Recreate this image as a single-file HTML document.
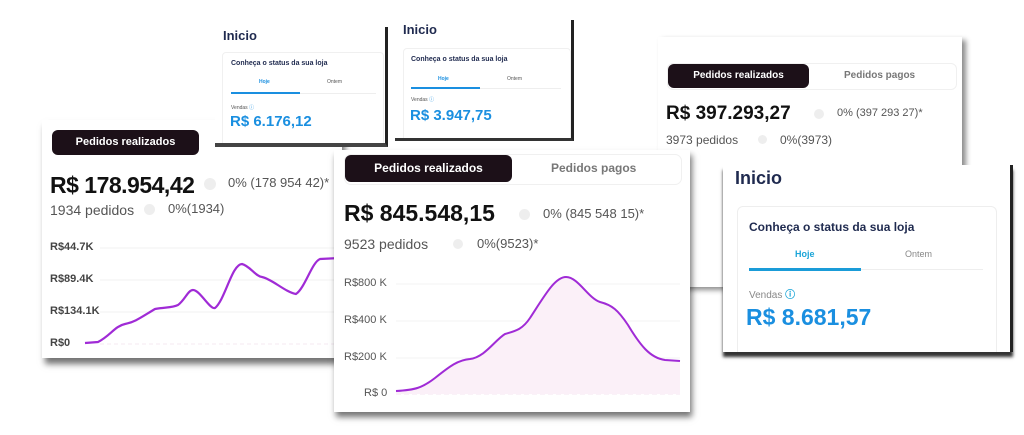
<!DOCTYPE html>
<html><head><meta charset="utf-8"><style>
body{margin:0;width:1024px;height:435px;background:#fff;position:relative;overflow:hidden;font-family:"Liberation Sans",sans-serif}
.a{position:absolute;white-space:nowrap}
.card{position:absolute;background:#fff}
.pill{position:absolute;background:#1c1018;color:#fff;border-radius:6px;font-weight:bold;text-align:center}
.inicio{color:#1f2a4f;font-weight:bold}
.blue{color:#1a8fe0;font-weight:bold}
.g{color:#555}
.dot{position:absolute;border-radius:50%;background:#eee}
</style></head><body>

<!-- small card 2 -->
<div class="card" style="left:395px;top:20px;width:176px;height:118px;border-right:3px solid #222;border-bottom:3px solid #333;overflow:hidden">
 <div class="a inicio" style="left:8px;top:2px;font-size:13px">Inicio</div>
 <div style="position:absolute;left:8px;top:28px;width:166px;height:95px;border:1px solid #f0f0f0;border-radius:4px"></div>
 <div class="a inicio" style="left:16px;top:36px;font-size:7px">Conheça o status da sua loja</div>
 <div class="a blue" style="left:43px;top:56px;font-size:5px">Hoje</div>
 <div class="a g" style="left:112px;top:56px;font-size:5px">Ontem</div>
 <div class="a" style="left:16px;top:68px;width:150px;height:1px;background:#eee"></div>
 <div class="a" style="left:16px;top:67px;width:69px;height:2px;background:#1a8fe0"></div>
 <div class="a g" style="left:16px;top:76px;font-size:5px">Vendas <span style="color:#1a8fe0">ⓘ</span></div>
 <div class="a blue" style="left:15px;top:87px;font-size:15px">R$ 3.947,75</div>
</div>

<!-- left card -->
<div class="card" style="left:42px;top:120px;width:300px;height:238px;box-shadow:3px 6px 6px rgba(0,0,0,.55)">
 <div class="pill" style="left:10px;top:10px;width:147px;height:25px;line-height:25px;font-size:11px">Pedidos realizados</div>
 <div class="a" style="left:8px;top:52px;font-size:23px;color:#111;font-weight:bold;letter-spacing:-0.5px">R$ 178.954,42</div>
 <div class="dot" style="left:162px;top:58px;width:12px;height:12px"></div>
 <div class="a g" style="left:186px;top:55px;font-size:13px">0% (178 954 42)*</div>
 <div class="a g" style="left:8px;top:82px;font-size:14px">1934 pedidos</div>
 <div class="dot" style="left:102px;top:84px;width:11px;height:11px"></div>
 <div class="a g" style="left:126px;top:81px;font-size:13px">0%(1934)</div>
 <div class="a g" style="left:8px;top:121px;font-size:11px;font-weight:bold;color:#444">R$44.7K</div>
 <div class="a g" style="left:8px;top:153px;font-size:11px;font-weight:bold;color:#444">R$89.4K</div>
 <div class="a g" style="left:8px;top:185px;font-size:11px;font-weight:bold;color:#444">R$134.1K</div>
 <div class="a g" style="left:8px;top:217px;font-size:11px;font-weight:bold;color:#444">R$0</div>
</div>
<svg class="a" style="left:0;top:0" width="1024" height="435">
 <g stroke="#f2f2f2"><line x1="100" y1="248" x2="340" y2="248"/><line x1="100" y1="280" x2="340" y2="280"/><line x1="100" y1="312" x2="340" y2="312"/><line x1="100" y1="344" x2="340" y2="344" stroke-dasharray="4 3" stroke="#f4e8f2"/></g>
 <path d="M85 343 L98 342 C110 336,115 326,125 324 C135 322,140 318,155 309 C165 307,172 308,178 305 C185 300,188 290,193 290 C200 290,210 310,215 308 C225 300,232 264,242 264 C250 266,255 276,262 277 C272 279,285 292,296 294 C305 288,312 262,320 259 L340 258" fill="none" stroke="#a02bd6" stroke-width="2.2"/>
</svg>

<!-- small card 1 (on top of left card) -->
<div class="card" style="left:215px;top:27px;width:170px;height:116px;border-right:3px solid #222;border-bottom:4px solid #444;overflow:hidden">
 <div class="a inicio" style="left:8px;top:1px;font-size:13px">Inicio</div>
 <div style="position:absolute;left:7px;top:25px;width:160px;height:95px;border:1px solid #f0f0f0;border-radius:4px"></div>
 <div class="a inicio" style="left:16px;top:33px;font-size:7px">Conheça o status da sua loja</div>
 <div class="a blue" style="left:44px;top:52px;font-size:5px">Hoje</div>
 <div class="a g" style="left:112px;top:52px;font-size:5px">Ontem</div>
 <div class="a" style="left:16px;top:66px;width:145px;height:1px;background:#eee"></div>
 <div class="a" style="left:16px;top:65px;width:69px;height:2px;background:#1a8fe0"></div>
 <div class="a g" style="left:16px;top:77px;font-size:5px">Vendas <span style="color:#1a8fe0">ⓘ</span></div>
 <div class="a blue" style="left:15px;top:86px;font-size:15px">R$ 6.176,12</div>
</div>

<!-- right back card -->
<div class="card" style="left:658px;top:37px;width:304px;height:250px;box-shadow:4px 3px 5px rgba(0,0,0,.45)">
 <div style="position:absolute;left:9px;top:26px;width:288px;height:25px;border:1px solid #f0f0f0;border-radius:6px"></div>
 <div class="pill" style="left:10px;top:27px;width:141px;height:24px;line-height:24px;font-size:10px">Pedidos realizados</div>
 <div class="a g" style="left:186px;top:33px;font-size:10px;font-weight:bold;color:#777">Pedidos pagos</div>
 <div class="a" style="left:8px;top:66px;font-size:19px;color:#111;font-weight:bold">R$ 397.293,27</div>
 <div class="dot" style="left:156px;top:72px;width:10px;height:10px"></div>
 <div class="a g" style="left:179px;top:70px;font-size:11px">0% (397 293 27)*</div>
 <div class="a g" style="left:8px;top:96px;font-size:12px">3973 pedidos</div>
 <div class="dot" style="left:100px;top:98px;width:9px;height:9px"></div>
 <div class="a g" style="left:122px;top:96px;font-size:12px">0%(3973)</div>
</div>

<!-- center card -->
<div class="card" style="left:334px;top:150px;width:356px;height:262px;box-shadow:2px 5px 6px rgba(0,0,0,.55)">
 <div style="position:absolute;left:10px;top:4px;width:336px;height:29px;border:1px solid #f0f0f0;border-radius:7px"></div>
 <div class="pill" style="left:11px;top:5px;width:167px;height:27px;line-height:27px;font-size:12px">Pedidos realizados</div>
 <div class="a g" style="left:217px;top:11px;font-size:12px;font-weight:bold;color:#777">Pedidos pagos</div>
 <div class="a" style="left:10px;top:50px;font-size:23px;color:#111;font-weight:bold">R$ 845.548,15</div>
 <div class="dot" style="left:185px;top:59px;width:11px;height:11px"></div>
 <div class="a g" style="left:209px;top:56px;font-size:13px">0% (845 548 15)*</div>
 <div class="a g" style="left:10px;top:86px;font-size:14px">9523 pedidos</div>
 <div class="dot" style="left:119px;top:89px;width:10px;height:10px"></div>
 <div class="a g" style="left:143px;top:86px;font-size:13px">0%(9523)*</div>
 <div class="a g" style="left:10px;top:127px;font-size:11px">R$800 K</div>
 <div class="a g" style="left:10px;top:164px;font-size:11px">R$400 K</div>
 <div class="a g" style="left:10px;top:201px;font-size:11px">R$200 K</div>
 <div class="a g" style="left:30px;top:237px;font-size:11px">R$ 0</div>
</div>
<svg class="a" style="left:0;top:0" width="1024" height="435">
 <g stroke="#f3f3f3"><line x1="396" y1="284" x2="680" y2="284"/><line x1="396" y1="321" x2="680" y2="321"/><line x1="396" y1="358" x2="680" y2="358"/><line x1="396" y1="394" x2="680" y2="394" stroke-dasharray="5 3" stroke="#f4e4f0"/></g>
 <path d="M396 391 C415 390,422 388,435 378 C450 366,458 360,470 359 C485 357,495 340,505 334 C515 331,522 330,530 318 C545 295,555 277,566 277 C578 277,588 298,600 302 C612 305,618 310,628 325 C640 345,650 358,665 360 L680 361 L680 394 L396 394 Z" fill="#fbf0f8" stroke="none"/>
 <path d="M396 391 C415 390,422 388,435 378 C450 366,458 360,470 359 C485 357,495 340,505 334 C515 331,522 330,530 318 C545 295,555 277,566 277 C578 277,588 298,600 302 C612 305,618 310,628 325 C640 345,650 358,665 360 L680 361" fill="none" stroke="#a02bd6" stroke-width="2"/>
</svg>

<!-- front right card -->
<div class="card" style="left:723px;top:165px;width:287px;height:187px;border-right:3px solid #222;box-shadow:0 5px 3px #333;overflow:hidden">
 <div class="a inicio" style="left:12px;top:3px;font-size:18px">Inicio</div>
 <div style="position:absolute;left:14px;top:41px;width:258px;height:160px;border:1px solid #eee;border-radius:6px"></div>
 <div class="a inicio" style="left:26px;top:55px;font-size:12px">Conheça o status da sua loja</div>
 <div class="a blue" style="left:72px;top:84px;font-size:9px;color:#1aa5d8">Hoje</div>
 <div class="a g" style="left:182px;top:84px;font-size:9px;color:#888">Ontem</div>
 <div class="a" style="left:26px;top:104px;width:234px;height:1px;background:#eee"></div>
 <div class="a" style="left:26px;top:103px;width:112px;height:3px;background:#1a9cd8"></div>
 <div class="a g" style="left:26px;top:121px;font-size:10px;color:#888">Vendas <span style="color:#1aa5d8;font-weight:bold">ⓘ</span></div>
 <div class="a blue" style="left:23px;top:139px;font-size:23px">R$ 8.681,57</div>
</div>
</body></html>
